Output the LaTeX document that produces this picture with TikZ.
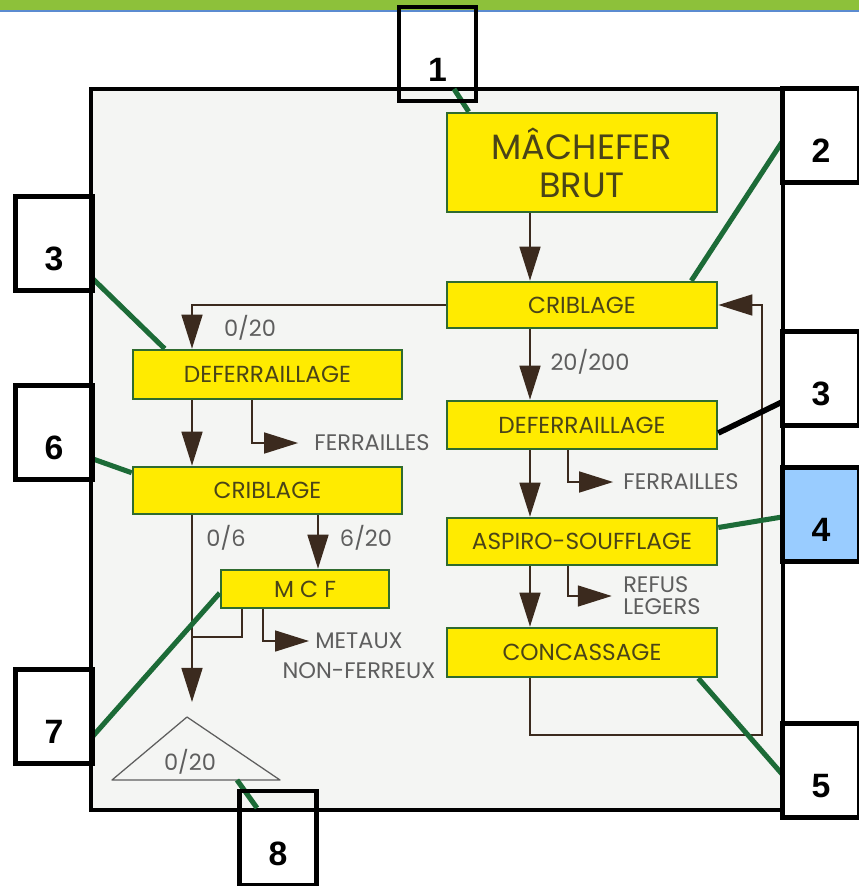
\documentclass[tikz,border=0pt]{standalone}
\usepackage{fontspec}
\setmainfont{Poppins}
\newfontfamily\numfont{Liberation Sans}
\usetikzlibrary{positioning,arrows.meta,calc}
\definecolor{mfbar}{HTML}{8DC13A}
\definecolor{mfbarline}{HTML}{5B8BD0}
\definecolor{mfphoto}{HTML}{F4F5F3}
\definecolor{mfyellow}{HTML}{FFEB00}
\definecolor{mfedge}{HTML}{2F6B2F}
\definecolor{mfink}{HTML}{4A4418}
\definecolor{mfarrow}{HTML}{3B2A1E}
\definecolor{mfmuted}{HTML}{5E5E5E}
\definecolor{mflead}{HTML}{1C6B37}
\definecolor{mfblue}{HTML}{99CCFF}

\begin{document}
\begin{tikzpicture}[x=0.025cm, y=-0.025cm,
  proc/.style={draw=mfedge, fill=mfyellow, line width=1.8pt, text=mfink,
               minimum width=6.75cm, minimum height=#1, inner sep=0pt,
               font=\fontsize{16.5}{18}\selectfont},
  proc/.default=1.2cm,
  num/.style={draw=black, line width=3pt, fill=#1, minimum width=1.925cm,
              minimum height=2.35cm, text height=1.35cm, text depth=0pt,
              inner sep=0pt, font=\numfont\bfseries\fontsize{24}{24}\selectfont},
  num/.default=none,
  arr/.style={-{Triangle[length=0.85cm, width=0.52cm]}, draw=mfarrow, line width=1.6pt},
  wire/.style={draw=mfarrow, line width=1.6pt},
  lead/.style={draw=mflead, line width=3.6pt},
  tag/.style={text=mfmuted, inner sep=0pt, font=\fontsize{16}{16}\selectfont},
]
  \useasboundingbox (0,0) rectangle (859,886);
  % ---- page band and photo ------------------------------------------------
  \fill[mfbar] (0,0) rectangle (859,10);
  \fill[mfbarline] (0,10) rectangle (859,12);
  \fill[mfphoto] (91,89) rectangle (783,810);

  % ---- main line -----------------------------------------------------------
  \node[proc=2.475cm, align=center, font=\fontsize{25}{27}\selectfont] (brut) at (582,162.5)
    {MÂCHEFER\\BRUT};
  \node[proc=1.15cm] (cribR) at (582,305) {CRIBLAGE};
  \node[proc=1.2cm] (deferR) at (582,425) {DEFERRAILLAGE};
  \node[proc=1.175cm] (aspiro) at (582,541.5) {ASPIRO-SOUFFLAGE};
  \node[proc=1.225cm] (concas) at (582,652.5) {CONCASSAGE};

  % ---- fines line ------------------------------------------------------------
  \node[proc=1.225cm, minimum width=6.725cm] (deferL) at (267.5,374.5) {DEFERRAILLAGE};
  \node[proc=1.175cm, minimum width=6.725cm] (cribL) at (267.5,490.5) {CRIBLAGE};
  \node[proc=0.95cm, minimum width=4.2cm] (mcf) at (305,589) {M C F};

  % ---- labels ----------------------------------------------------------------
  \node[tag] (cut020) at (250,328) {0/20};
  \node[tag] (cut20200) at (590,362) {20/200};
  \node[tag] (ferrR) at (681,482) {FERRAILLES};
  \node[tag, align=left, anchor=west, font=\fontsize{16}{15.6}\selectfont] (refus) at (623,596)
    {REFUS\\LEGERS};
  \node[tag] (ferrL) at (372,443) {FERRAILLES};
  \node[tag] (cut06) at (226,538) {0/6};
  \node[tag] (cut620) at (366,538) {6/20};
  \node[tag] (metaux) at (359,641) {METAUX};
  \node[tag] (nonfer) at (359,671) {NON-FERREUX};

  % stockpile
  \coordinate (pileL) at (112,780);
  \coordinate (pileT) at (187,717);
  \coordinate (pileR) at (280,780);
  \coordinate (pileB) at (237,780);
  \draw[mfmuted, line width=0.9pt, line join=round] (pileL) -- (pileT) -- (pileR) -- cycle;
  \node[tag] (pile) at (190,762) {0/20};

  % ---- flow ------------------------------------------------------------------
  \coordinate (colR) at (530,0);
  \coordinate (sideR) at (568,0);
  \coordinate (colL) at (192,0);
  \coordinate (sideL) at (252,0);
  \coordinate (mcfIn) at (318,0);
  \coordinate (mcfOut) at (242,0);
  \coordinate (mcfSide) at (263,0);
  \coordinate (loopBot) at (762,735);
  \coordinate (pileIn) at (192,702);
  \coordinate (joinL) at (192,637);

  \draw[arr] (brut.south -| colR) -- (cribR.north -| colR);
  \draw[arr] (cribR.south -| colR) -- (deferR.north -| colR);
  \draw[arr] (deferR.south -| colR) -- (aspiro.north -| colR);
  \draw[arr] (aspiro.south -| colR) -- (concas.north -| colR);
  \draw[arr, shorten >=0.25cm] (deferR.south -| sideR) |- (ferrR.west);
  \draw[arr, shorten >=0.28cm] (aspiro.south -| sideR) |- (refus.west);
  \draw[arr] (concas.south -| colR) |- (loopBot) |- (cribR.east);

  \draw[arr] (cribR.west) -| (deferL.north -| colL);
  \draw[arr] (deferL.south -| colL) -- (cribL.north -| colL);
  \draw[arr, shorten >=0.4cm] (deferL.south -| sideL) |- (ferrL.west);
  \draw[arr] (cribL.south -| mcfIn) -- (mcf.north -| mcfIn);
  \draw[arr] (cribL.south -| colL) -- (pileIn);
  \draw[wire] (mcf.south -| mcfOut) |- (joinL);
  \draw[arr, shorten >=0.15cm] (mcf.south -| mcfSide) |- (metaux.west);

  % ---- frame and leaders ---------------------------------------------------
  \draw[black, line width=3pt] (91,89) rectangle (783,810);

  \coordinate (e1) at (454,89);
  \coordinate (e2) at (782,142);
  \coordinate (e3a) at (93,279);
  \coordinate (e6) at (93,459);
  \coordinate (e3b) at (782,402);
  \coordinate (e4) at (782,517);
  \coordinate (e5) at (782,774);
  \coordinate (e7) at (93,736);
  \coordinate (e8) at (257,808);

  \draw[lead] (e1) -- ($(brut.north west)+(23,0)$);
  \draw[lead] (e2) -- ($(cribR.north east)+(-27,0)$);
  \draw[lead] (e3a) -- ($(deferL.north west)+(33,0)$);
  \draw[lead] (e6) -- ($(cribL.north west)+(0,7)$);
  \draw[lead, draw=black, line width=4pt] ($(deferR.east)+(0,8)$) -- (e3b);
  \draw[lead] ($(aspiro.east)+(0,-14)$) -- (e4);
  \draw[lead] ($(concas.south east)+(-20,0)$) -- (e5);
  \draw[lead] ($(mcf.west)+(0,4)$) -- (e7);
  \draw[lead] (pileB) -- (e8);

  % ---- numbered callouts -----------------------------------------------------
  \node[num] (n1) at (437.5,54) {1};
  \node[num] (n2) at (821,135.5) {2};
  \node[num] (n3a) at (54,243.5) {3};
  \node[num] (n6) at (54,432.5) {6};
  \node[num] (n3b) at (821,378.5) {3};
  \node[num=mfblue] (n4) at (821,514.5) {4};
  \node[num] (n5) at (821,770.5) {5};
  \node[num] (n7) at (54,716.5) {7};
  \node[num] (n8) at (278,838) {8};
\end{tikzpicture}
\end{document}
